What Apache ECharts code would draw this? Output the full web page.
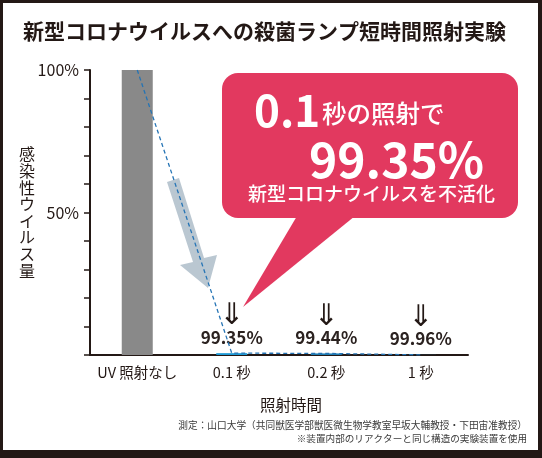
<!DOCTYPE html>
<html>
<head>
<meta charset="utf-8">
<script src="https://cdn.jsdelivr.net/npm/echarts@6/dist/echarts.min.js"></script>
<style>
html,body{margin:0;padding:0;background:#231815;}
#c{width:542px;height:458px;}
</style>
</head>
<body>
<div id="c"></div>
<script>
// ---- data ----
const categories = ['UV 照射なし', '0.1 秒', '0.2 秒', '1 秒'];
const remainingPct = [100, 0.65, 0.56, 0.04];
const inactivationLabels = ['', '99.35%', '99.44%', '99.96%'];
const yLabelValues = [50, 100];
const titleText = '新型コロナウイルスへの殺菌ランプ短時間照射実験';
const yAxisName = '感染性ウイルス量';
const xAxisName = '照射時間';
const bubbleLines = ['0.1', '秒の照射で', '99.35%', '新型コロナウイルスを不活化'];
const footerLines = [
  '測定：山口大学（共同獣医学部獣医微生物学教室早坂大輔教授・下田宙准教授）',
  '※装置内部のリアクターと同じ構造の実験装置を使用'
];

const FONT = '"Noto Sans CJK JP","Noto Sans",sans-serif';
const INK = '#231815';
const barColors = ['#898989', '#1e9ad6', '#1f7db3', '#2a8cc4'];

const chart = echarts.init(document.getElementById('c'), null, {renderer: 'canvas'});

const barData = remainingPct.map((v, i) => ({
  value: v,
  itemStyle: {color: barColors[i]},
  label: {
    show: inactivationLabels[i] !== '',
    position: 'top',
    distance: 7,
    formatter: '{arr|⇓}\n{val|' + inactivationLabels[i] + '}',
    rich: {
      arr: {fontFamily: '"DejaVu Sans",sans-serif', fontSize: 30, lineHeight: 21, color: INK, align: 'center', padding: [0, 0, 2, 0]},
      val: {fontFamily: FONT, fontSize: 17, fontWeight: 'bold', lineHeight: 18, color: '#2b2220', align: 'center'}
    }
  }
}));

const option = {
  backgroundColor: '#231815',
  animation: false,
  title: {
    text: titleText,
    left: 18, top: 16,
    textStyle: {fontFamily: FONT, fontSize: 21, fontWeight: 'bold', color: INK}
  },
  grid: {left: 90, right: 74, top: 70, bottom: 103, containLabel: false},
  xAxis: {
    type: 'category',
    data: categories,
    name: xAxisName,
    nameLocation: 'middle',
    nameGap: 42,
    nameMoveOverlap: false,
    nameTextStyle: {fontFamily: FONT, fontSize: 15.5, color: INK, padding: [0, 0, 0, 24]},
    axisLine: {lineStyle: {color: INK, width: 2}},
    axisTick: {show: false},
    axisLabel: {fontFamily: FONT, fontSize: 14.5, color: INK, margin: 10, interval: 0}
  },
  yAxis: {
    type: 'value',
    min: 0, max: 100, interval: 10,
    name: yAxisName.split('').join('\n'),
    nameLocation: 'middle',
    nameGap: 55,
    nameMoveOverlap: false,
    nameRotate: 0,
    nameTextStyle: {fontFamily: FONT, fontSize: 16, color: INK, lineHeight: 16.6, padding: [8, 0, 0, 0]},
    axisLine: {show: true, lineStyle: {color: INK, width: 2}},
    axisTick: {show: true, length: 6, lineStyle: {color: INK, width: 1.5}},
    splitLine: {show: false},
    axisLabel: {
      fontFamily: FONT, fontSize: 16, color: INK, margin: 11,
      formatter: v => yLabelValues.indexOf(v) >= 0 ? v + '%' : ''
    }
  },
  series: [
    {
      type: 'bar',
      data: barData,
      barWidth: 31,
      z: 2
    },
    {
      type: 'line',
      data: remainingPct,
      symbol: 'none',
      lineStyle: {color: '#2574b5', width: 1.3, type: [4, 3]},
      z: 3
    }
  ],
  graphic: [
    {type: 'rect', z: -100, shape: {x: 3, y: 3, width: 535, height: 447}, style: {fill: '#ffffff'}},
    // grey hint arrow
    {type: 'polygon', z: 1, shape: {points: [[167,182],[179,178],[204,258],[217,255],[208,288],[180,265],[193,262]]},
      style: {fill: '#b3c1cc', opacity: 0.9}},
    // speech bubble
    {type: 'rect', z: 10, shape: {x: 222, y: 73, width: 296, height: 145, r: 16}, style: {fill: '#e2395f'}},
    {type: 'polygon', z: 10, shape: {points: [[297,216],[355,216],[243,307]]}, style: {fill: '#e2395f'}},
    {type: 'text', z: 11, x: 254, y: 110, style: {text: bubbleLines[0], fill: '#fff', font: 'bold 44px ' + FONT, verticalAlign: 'middle'}},
    {type: 'text', z: 11, x: 322, y: 114, style: {text: bubbleLines[1], fill: '#fff', font: '500 24.5px ' + FONT, verticalAlign: 'middle'}},
    {type: 'text', z: 11, x: 484, y: 160, style: {text: bubbleLines[2], fill: '#fff', font: 'bold 48px ' + FONT, verticalAlign: 'middle', align: 'right'}},
    {type: 'text', z: 11, x: 248, y: 194, style: {text: bubbleLines[3], fill: '#fff', font: '500 19px ' + FONT, verticalAlign: 'middle'}},
    // footer
    {type: 'text', z: 11, x: 527, y: 425, style: {text: footerLines[0], fill: '#3a3a3a', font: '9.7px ' + FONT, verticalAlign: 'middle', align: 'right'}},
    {type: 'text', z: 11, x: 527, y: 438, style: {text: footerLines[1], fill: '#3a3a3a', font: '9.6px ' + FONT, verticalAlign: 'middle', align: 'right'}}
  ]
};
chart.setOption(option);
</script>
</body>
</html>
